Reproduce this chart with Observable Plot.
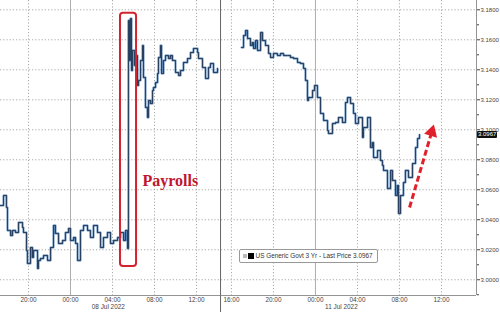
<!DOCTYPE html>
<html>
<head>
<meta charset="utf-8">
<script src="https://cdn.jsdelivr.net/npm/d3@7"></script>
<script src="https://cdn.jsdelivr.net/npm/@observablehq/plot@0.6"></script>
<style>
  body { margin: 0; background: #fff; }
  #wrap { position: relative; width: 500px; height: 312px; overflow: hidden; font-family: "Liberation Sans", Arial, sans-serif; }
  #legend { position: absolute; border: 1px solid #999; border-radius: 2px; background: #fff; font-size: 6.4px; color: #333; padding: 2px 4px 2px 3px; white-space: nowrap; line-height: 8px; }
  #legend .g { display: inline-block; width: 4px; height: 4px; background: #bbb; margin-right: 1px; vertical-align: 0px; }
  #legend .k { display: inline-block; width: 6px; height: 6px; background: #000; margin-right: 2px; vertical-align: -1px; }
  #last { position: absolute; background: #111; color: #fff; font-size: 6px; line-height: 7px; padding: 0 1px 0 1px; border-radius: 1px; }
</style>
</head>
<body>
<div id="wrap"></div>
<script>
// Session-compressed time axis: hours counted from Thu 07 Jul 20:00 (weekend removed)
const leftHours = [-2.67,-2.38,-2.10,-2.00,-1.71,-1.52,-1.24,-0.95,-0.57,-0.48,-0.19,-0.10,0.19,0.38,0.48,0.86,0.95,1.14,1.43,1.81,2.10,2.38,2.57,2.86,3.24,3.52,3.81,4.00,4.29,4.48,4.67,4.95,5.24,5.62,5.90,6.19,6.57,6.86,7.14,7.52,7.81,8.10,8.48,8.76,9.05,9.24,9.43,9.52,9.62,9.71,9.81,9.90,10.10,10.19,10.38,10.48,10.67,10.86,10.95,11.14,11.33,11.43,11.62,11.81,11.90,12.10,12.29,12.38,12.57,12.67,12.86,13.05,13.33,13.52,13.71,14.00,14.29,14.48,14.76,15.14,15.43,15.71,16.10,16.19,16.57,16.86,17.14,17.33,17.62,18.00];
const leftYield = [3.0495,3.0562,3.0482,3.0329,3.0295,3.0329,3.0315,3.0382,3.0349,3.0315,3.0195,3.0109,3.0215,3.0149,3.0195,3.0075,3.0129,3.0142,3.0162,3.0129,3.0215,3.0362,3.0309,3.0242,3.0262,3.0315,3.0342,3.0262,3.0282,3.0242,3.0129,3.0329,3.0362,3.0329,3.0282,3.0362,3.0315,3.0215,3.0282,3.0315,3.0242,3.0262,3.0282,3.0315,3.0262,3.0329,3.0209,3.1729,3.1462,3.1742,3.1395,3.1529,3.1429,3.1495,3.1295,3.1329,3.1462,3.1562,3.1349,3.1149,3.1082,3.1195,3.1175,3.1262,3.1282,3.1315,3.1375,3.1482,3.1562,3.1375,3.1462,3.1495,3.1475,3.1495,3.1462,3.1382,3.1362,3.1395,3.1449,3.1475,3.1515,3.1542,3.1515,3.1475,3.1415,3.1342,3.1415,3.1442,3.1382,3.1409];
const rightHours = [20.29,20.48,20.67,20.86,21.14,21.33,21.43,21.62,21.81,22.10,22.29,22.57,22.86,23.05,23.33,23.71,24.00,24.29,24.67,24.95,25.24,25.62,25.90,26.19,26.38,26.57,26.67,27.05,27.24,27.52,27.81,28.10,28.48,28.57,28.95,29.24,29.52,29.90,30.19,30.38,30.67,30.95,31.14,31.43,31.81,31.90,32.29,32.57,32.76,32.86,33.24,33.52,33.71,33.81,34.19,34.48,34.67,34.95,35.14,35.24,35.43,35.71,35.90,36.19,36.57,36.86,37.05,37.24];
const rightYield = [3.1549,3.1629,3.1662,3.1609,3.1562,3.1582,3.1542,3.1595,3.1529,3.1649,3.1595,3.1562,3.1509,3.1482,3.1509,3.1495,3.1509,3.1495,3.1495,3.1482,3.1475,3.1449,3.1442,3.1409,3.1329,3.1195,3.1215,3.1262,3.1295,3.1215,3.1109,3.1062,3.0995,3.0975,3.1042,3.1049,3.1082,3.1049,3.1182,3.1215,3.1175,3.1109,3.1042,3.1082,3.0949,3.1015,3.1082,3.0882,3.0915,3.0815,3.0862,3.0795,3.0762,3.0729,3.0609,3.0729,3.0662,3.0562,3.0629,3.0442,3.0562,3.0649,3.0729,3.0682,3.0775,3.0882,3.0942,3.0967];

const xTickHours  = [0, 4, 8, 12, 16, 19.33, 23.33, 27.33, 31.33, 35.33, 39.33];
const xTickLabels = ["20:00","00:00","04:00","08:00","12:00","16:00","20:00","00:00","04:00","08:00","12:00"];
const midnightHours = [4, 27.33];
const sessionBreak = 18.29;
const dateHours  = [7.6, 29.8];
const dateLabels = ["08 Jul 2022", "11 Jul 2022"];
const yTicks = [3.00,3.02,3.04,3.06,3.08,3.10,3.12,3.14,3.16,3.18];
const yMinor = [2.99,3.01,3.03,3.05,3.07,3.09,3.11,3.13,3.15,3.17];
const xDomain = [-2.667, 42.667];
const yDomain = [2.9895, 3.1862];
const lastPrice = 3.0967;
const seriesName = "US Generic Govt 3 Yr - Last Price";
const boxAnnot = {x1: 8.76, x2: 10.29, y1: 3.0089, y2: 3.1777};
const payrollLabel = {x: 10.86, y: 3.0662, text: "Payrolls"};
const arrowAnnot = {x1: 36.29, y1: 3.0482, x2: 38.40, y2: 3.0985};

const data = [
  ...leftHours.map((h, i) => ({h, v: leftYield[i], s: "Fri"})),
  ...rightHours.map((h, i) => ({h, v: rightYield[i], s: "Mon"}))
];
const gridHours = xTickHours.filter(h => !midnightHours.includes(h));

const chart = Plot.plot({
  width: 500, height: 312,
  marginLeft: 0, marginRight: 24, marginTop: 0, marginBottom: 17,
  x: {domain: xDomain},
  y: {domain: yDomain},
  style: {fontFamily: "Liberation Sans, Arial, sans-serif", fontSize: "6.4px", color: "#444", background: "#fff"},
  marks: [
    Plot.gridY(yTicks, {stroke: "#aaa", strokeOpacity: 1, strokeDasharray: "1.2,2"}),
    Plot.gridX(gridHours, {stroke: "#aaa", strokeOpacity: 1, strokeDasharray: "1.2,2"}),
    Plot.ruleX(midnightHours, {stroke: "#999", strokeWidth: 0.8}),
    Plot.ruleX([sessionBreak], {stroke: "#666", strokeWidth: 1, y1: yDomain[0] - 0.012, y2: yDomain[1], clip: false}),
    Plot.ruleY([yDomain[0]], {stroke: "#777", strokeWidth: 0.8}),
    Plot.ruleX([xDomain[1]], {stroke: "#777", strokeWidth: 0.8}),
    Plot.axisX(xTickHours, {tickFormat: (d, i) => xTickLabels[i], tickSize: 0, tickPadding: 2, label: null}),
    Plot.axisX(dateHours, {tickFormat: (d, i) => dateLabels[i], tickSize: 0, tickPadding: 8.5, label: null}),
    Plot.axisY(yTicks, {anchor: "right", tickFormat: ".4f", tickSize: 3, tickPadding: 1, fontSize: 6, label: null}),
    Plot.axisY(yMinor, {anchor: "right", tickFormat: () => "", tickSize: 2, label: null}),
    Plot.line(data, {x: "h", y: "v", z: "s", curve: "step-after", stroke: "#5a87b8", strokeWidth: 2}),
    Plot.line(data, {x: "h", y: "v", z: "s", curve: "step-after", stroke: "#1c2c46", strokeWidth: 0.8}),
    Plot.rect([boxAnnot], {x1: "x1", x2: "x2", y1: "y1", y2: "y2", rx: 3, fill: "none", stroke: "#d4232f", strokeWidth: 2}),
    Plot.text([payrollLabel], {x: "x", y: "y", text: "text", textAnchor: "start", fill: "#c01530", fontSize: 16, fontWeight: "bold", fontFamily: "Liberation Serif, serif"}),
    Plot.link([arrowAnnot], {x1: "x1", y1: "y1", x2: "x2", y2: "y2", stroke: "#e0202a", strokeWidth: 3, strokeDasharray: "6,3"}),
    Plot.dot([arrowAnnot], {x: "x2", y: "y2", symbol: "triangle", r: 5, fill: "#e0202a", stroke: "none", rotate: 16.4})
  ]
});
const wrap = document.getElementById("wrap");
wrap.appendChild(chart);

const xs = chart.scale("x"), ys = chart.scale("y");
const legend = document.createElement("div");
legend.id = "legend";
legend.innerHTML = '<span class="g"></span><span class="k"></span>' + seriesName + " " + lastPrice.toFixed(4);
legend.style.left = (xs.apply(20.05)) + "px";
legend.style.top = (ys.apply(3.0182) - 3) + "px";
wrap.appendChild(legend);

const last = document.createElement("div");
last.id = "last";
last.textContent = lastPrice.toFixed(4);
last.style.left = (xs.apply(xDomain[1]) + 1) + "px";
last.style.top = (ys.apply(lastPrice) - 3.5) + "px";
wrap.appendChild(last);
</script>
</body>
</html>
